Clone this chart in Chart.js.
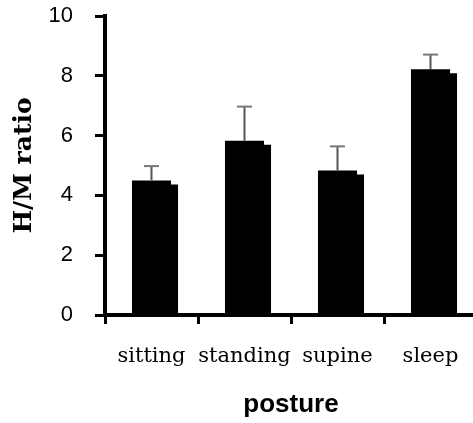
<!DOCTYPE html>
<html>
<head>
<meta charset="utf-8">
<script src="https://cdn.jsdelivr.net/npm/chart.js@4/dist/chart.umd.min.js"></script>
<style>
  html, body { margin: 0; padding: 0; background: #fff; overflow: hidden; }
  #wrap { width: 480px; height: 423px; }
</style>
</head>
<body>
<div id="wrap"><canvas id="chart" width="480" height="423"></canvas></div>
<script>
const categories = ['sitting', 'standing', 'supine', 'sleep'];
const means = [4.5, 5.83, 4.83, 8.22];
const errors = [0.48, 1.14, 0.81, 0.49];
const yTicks = [0, 2, 4, 6, 8, 10];

// black drop shadow offset to the lower right, like the original bars
const barShadow = {
  id: 'barShadow',
  beforeDatasetDraw(chart, args) {
    if (args.index !== 0) return;
    const ctx = chart.ctx;
    ctx.save();
    ctx.shadowColor = '#000';
    ctx.shadowBlur = 0;
    ctx.shadowOffsetX = 7;
    ctx.shadowOffsetY = 4;
  },
  afterDatasetDraw(chart, args) {
    if (args.index !== 0) return;
    chart.ctx.restore();
  },
};

// upper error bars (mean + error) with a short cap
const errorBars = {
  id: 'errorBars',
  afterDatasetsDraw(chart) {
    const ctx = chart.ctx;
    const y = chart.scales.y;
    const meta = chart.getDatasetMeta(0);
    ctx.save();
    meta.data.forEach((bar, i) => {
      const top = y.getPixelForValue(means[i] + errors[i]);
      const base = y.getPixelForValue(means[i]);
      ctx.strokeStyle = '#555';
      ctx.lineWidth = 2;
      ctx.beginPath();
      ctx.moveTo(bar.x, base);
      ctx.lineTo(bar.x, top);
      ctx.stroke();
      ctx.strokeStyle = '#777';
      ctx.beginPath();
      ctx.moveTo(bar.x - 7.5, top);
      ctx.lineTo(bar.x + 7.5, top);
      ctx.stroke();
    });
    ctx.restore();
  },
};

new Chart(document.getElementById('chart'), {
  type: 'bar',
  data: {
    labels: categories,
    datasets: [{
      data: means,
      backgroundColor: '#000',
      borderWidth: 0,
      barPercentage: 0.42,
      categoryPercentage: 1,
      clip: 0,
    }],
  },
  options: {
    responsive: false,
    animation: false,
    layout: { padding: { top: 3, right: 3, left: 0, bottom: 0 } },
    plugins: { legend: { display: false }, tooltip: { enabled: false } },
    scales: {
      x: {
        offset: true,
        z: 1,
        grid: { display: true, drawOnChartArea: false, drawTicks: true, tickLength: 9, lineWidth: 3, color: '#000', offset: true },
        border: { display: true, width: 4, color: '#000' },
        ticks: { color: '#000', padding: 20, autoSkip: false, maxRotation: 0, font: { family: "'DejaVu Serif', serif", size: 21 } },
        title: { display: true, text: 'posture', color: '#000', padding: { top: 0, bottom: 3 }, font: { family: "'Liberation Sans', Arial, sans-serif", size: 26, weight: 'bold' } },
        afterFit(scale) { scale.height = 108; },
      },
      y: {
        min: 0,
        max: 10,
        z: 1,
        afterBuildTicks(scale) { scale.ticks = yTicks.map(v => ({ value: v })); },
        grid: { display: true, drawOnChartArea: false, drawTicks: true, tickLength: 10, lineWidth: 3, color: '#000' },
        border: { display: true, width: 4, color: '#000' },
        ticks: { color: '#000', padding: 22, font: { family: "'Liberation Sans', Arial, sans-serif", size: 22 } },
        title: { display: true, text: 'H/M ratio', color: '#000', padding: { top: 9, bottom: 0 }, font: { family: "'DejaVu Serif', serif", size: 25, weight: 'bold' } },
        afterFit(scale) {
          scale.width = 105;
          scale.paddingTop = 16;
          scale.paddingBottom = 13;
        },
      },
    },
  },
  plugins: [barShadow, errorBars],
});
</script>
</body>
</html>
